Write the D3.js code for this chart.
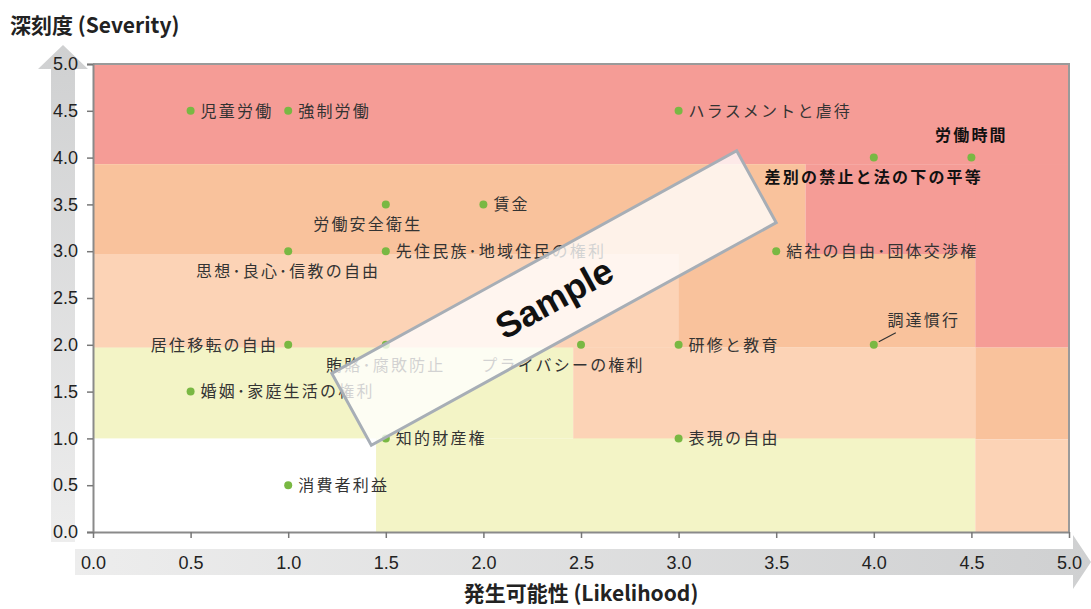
<!DOCTYPE html>
<html>
<head>
<meta charset="utf-8">
<script src="https://cdn.jsdelivr.net/npm/d3@7"></script>
<style>
  body { margin: 0; background: #fff; }
  svg { display: block; }
</style>
</head>
<body>
<svg id="chart" width="1091" height="609"></svg>
<script>
// risk items
const names = [
  "児童労働", "強制労働", "ハラスメントと虐待", "労働時間", "差別の禁止と法の下の平等",
  "労働安全衛生", "賃金", "思想･良心･信教の自由", "先住民族･地域住民の権利", "結社の自由･団体交渉権",
  "居住移転の自由", "賄賂･腐敗防止", "プライバシーの権利", "研修と教育", "調達慣行",
  "婚姻･家庭生活の権利", "知的財産権", "表現の自由", "消費者利益"
]
const likelihood = [0.5, 1.0, 3.0, 4.5, 4.0, 1.5, 2.0, 1.0, 1.5, 3.5, 1.0, 1.5, 2.5, 3.0, 4.0, 0.5, 1.5, 3.0, 1.0]
const severity   = [4.5, 4.5, 4.5, 4.0, 4.0, 3.5, 3.5, 3.0, 3.0, 3.0, 2.0, 2.0, 2.0, 2.0, 2.0, 1.5, 1.0, 1.0, 0.5]
// where the label sits: r right, l left, t above, b below, bl below-left, lead leader line
const placement  = ["r", "r", "r", "t", "b", "bl", "r", "b", "r", "r", "l", "b", "bl", "r", "lead", "r", "r", "r", "r"]
const strong = ["労働時間", "差別の禁止と法の下の平等"]

const ticks = [0, 0.5, 1, 1.5, 2, 2.5, 3, 3.5, 4, 4.5, 5]

// background risk zones, in data units
const zoneX0 = [0,    0,    0,    3.65, 0,    3.0,  4.52, 0,    2.46, 4.52, 1.45, 4.52]
const zoneX1 = [5,    3.65, 3.0,  5,    3.0,  4.52, 5,    2.46, 4.52, 5,    4.52, 5]
const zoneY0 = [3.93, 2.97, 1.97, 2.97, 1.97, 1.97, 1.97, 1.0,  0.99, 0.99, 0,    0]
const zoneY1 = [5,    3.93, 2.97, 3.93, 2.97, 2.97, 3.93, 1.97, 1.97, 1.97, 1.0,  0.99]
const zoneLevel = ["high", "mid", "low", "high", "low", "mid", "high", "min", "low", "mid", "min", "low"]
const zoneColor = { high: "#f59c96", mid: "#f9c29c", low: "#fcd3b6", min: "#f3f4c6" }

const svg = d3.select("#chart")
const x = d3.scaleLinear().domain([0, 5]).range([93, 1069])
const y = d3.scaleLinear().domain([0, 5]).range([532, 64])

const defs = svg.append("defs")
const gv = defs.append("linearGradient").attr("id", "gv").attr("x1", 0).attr("y1", 1).attr("x2", 0).attr("y2", 0)
gv.append("stop").attr("offset", "0%").attr("stop-color", "#ededed")
gv.append("stop").attr("offset", "100%").attr("stop-color", "#cfd0d1")
const gh = defs.append("linearGradient").attr("id", "gh").attr("x1", 0).attr("y1", 0).attr("x2", 1).attr("y2", 0)
gh.append("stop").attr("offset", "0%").attr("stop-color", "#ededed")
gh.append("stop").attr("offset", "100%").attr("stop-color", "#cfd0d1")

// arrow bands behind the axes
const vx = x(0) - 30
svg.append("path")
    .attr("fill", "url(#gv)")
    .attr("d", d3.line()([
      [vx - 12, y(0) + 10], [vx - 12, y(5) + 5], [vx - 25, y(5) + 5], [vx, y(5) - 19],
      [vx + 25, y(5) + 5], [vx + 12, y(5) + 5], [vx + 12, y(0) + 10]
    ]))
const hy = y(0) + 30
svg.append("path")
    .attr("fill", "url(#gh)")
    .attr("d", d3.line()([
      [x(0) - 18, hy - 13], [x(5) + 4, hy - 13], [x(5) + 4, hy - 27], [1091, hy],
      [x(5) + 4, hy + 27], [x(5) + 4, hy + 13], [x(0) - 18, hy + 13]
    ]))

svg.append("g")
  .selectAll("rect")
  .data(d3.range(zoneX0.length))
  .join("rect")
    .attr("x", i => x(zoneX0[i]))
    .attr("y", i => y(zoneY1[i]))
    .attr("width", i => x(zoneX1[i]) - x(zoneX0[i]))
    .attr("height", i => y(zoneY0[i]) - y(zoneY1[i]))
    .attr("fill", i => zoneColor[zoneLevel[i]])

// frame top and right
svg.append("path")
    .attr("fill", "none")
    .attr("stroke", "#9a9a9a")
    .attr("stroke-width", 2)
    .attr("d", d3.line()([[x(0), y(5)], [x(5), y(5)], [x(5), y(0)]]))

const fmt = d3.format(".1f")
const yAxis = svg.append("g")
    .attr("transform", "translate(" + x(0) + ",0)")
    .call(d3.axisLeft(y).tickValues(ticks).tickFormat(fmt).tickSize(6).tickPadding(9))
const xAxis = svg.append("g")
    .attr("transform", "translate(0," + y(0) + ")")
    .call(d3.axisBottom(x).tickValues(ticks).tickFormat(fmt).tickSize(6).tickPadding(18).tickSizeOuter(0))
;[yAxis, xAxis].forEach(g => {
  g.select(".domain").attr("stroke", "#8a8a8a").attr("stroke-width", 2)
  g.selectAll(".tick line").attr("stroke", "#777").attr("stroke-width", 1.5)
  g.selectAll(".tick text")
      .attr("fill", "#222")
      .attr("font-family", "Liberation Sans, Arial, sans-serif")
      .attr("font-size", 18)
})

// points and labels
const idx = d3.range(names.length)
svg.append("g")
  .selectAll("circle")
  .data(idx)
  .join("circle")
    .attr("cx", i => x(likelihood[i]))
    .attr("cy", i => y(severity[i]))
    .attr("r", 4)
    .attr("fill", "#79b843")

const lead = idx.filter(i => placement[i] === "lead")
svg.append("g")
  .selectAll("line")
  .data(lead)
  .join("line")
    .attr("x1", i => x(likelihood[i]) + 5)
    .attr("y1", i => y(severity[i]) - 3)
    .attr("x2", i => x(likelihood[i]) + 22)
    .attr("y2", i => y(severity[i]) - 12)
    .attr("stroke", "#333")
    .attr("stroke-width", 1.2)

svg.append("g")
    .attr("font-family", "Noto Sans CJK JP, sans-serif")
    .attr("font-size", 16)
    .attr("letter-spacing", 2.2)
  .selectAll("text")
  .data(idx)
  .join("text")
    .attr("x", i => {
      const px = x(likelihood[i])
      switch (placement[i]) {
        case "r": return px + 10
        case "l": return px - 10
        case "bl": return px - 18
        case "lead": return px + 50
        default: return px
      }
    })
    .attr("y", i => {
      const py = y(severity[i])
      switch (placement[i]) {
        case "t": return py - 22
        case "b": case "bl": return py + 20
        case "lead": return py - 25
        default: return py
      }
    })
    .attr("dy", "0.36em")
    .attr("text-anchor", i => {
      const p = placement[i]
      return p === "r" ? "start" : p === "l" ? "end" : "middle"
    })
    .attr("fill", i => strong.includes(names[i]) ? "#111" : "#333")
    .attr("font-weight", i => strong.includes(names[i]) ? "bold" : "normal")
    .text(i => names[i])

// axis titles
svg.append("text")
    .attr("x", 10)
    .attr("y", 33)
    .attr("font-family", "Noto Sans CJK JP, Liberation Sans, sans-serif")
    .attr("font-weight", "bold")
    .attr("font-size", 21)
    .attr("fill", "#222")
    .text("深刻度 (Severity)")
svg.append("text")
    .attr("x", 581)
    .attr("y", 601)
    .attr("text-anchor", "middle")
    .attr("font-family", "Noto Sans CJK JP, Liberation Sans, sans-serif")
    .attr("font-weight", "bold")
    .attr("font-size", 21)
    .attr("fill", "#222")
    .text("発生可能性 (Likelihood)")

// watermark
const stamp = svg.append("g").attr("transform", "translate(554,298) rotate(-28.8)")
stamp.append("rect")
    .attr("x", -231).attr("y", -41)
    .attr("width", 462).attr("height", 82)
    .attr("fill", "#fff")
    .attr("fill-opacity", 0.78)
    .attr("stroke", "#a7aeb6")
    .attr("stroke-width", 3)
stamp.append("text")
    .attr("text-anchor", "middle")
    .attr("dy", "0.36em")
    .attr("font-family", "Liberation Sans, Arial, sans-serif")
    .attr("font-weight", "bold")
    .attr("font-size", 36)
    .attr("fill", "#111")
    .text("Sample")
</script>
</body>
</html>
